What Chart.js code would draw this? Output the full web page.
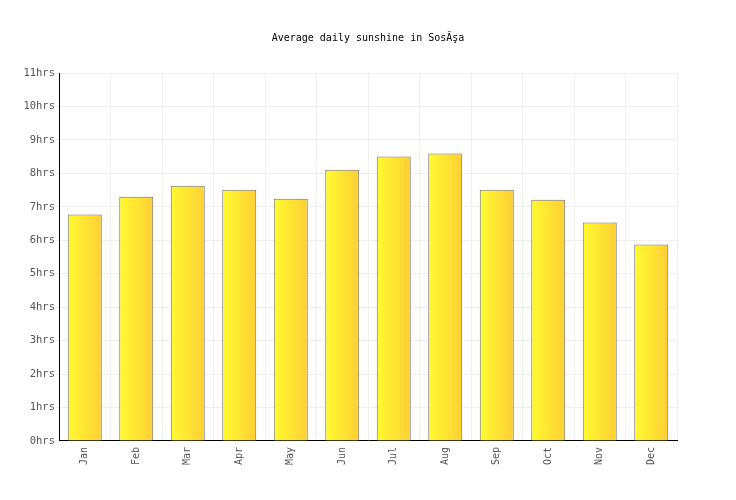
<!DOCTYPE html>
<html>
<head>
<meta charset="utf-8">
<script src="https://cdn.jsdelivr.net/npm/chart.js@4.4.0/dist/chart.umd.min.js"></script>
<style>
  html, body { margin: 0; padding: 0; background: #fff; }
  #wrap { width: 736px; height: 500px; }
</style>
</head>
<body>
<div id="wrap"><canvas id="sunCanvas"></canvas></div>
<script>
// 月份与日照时数（小时）
const months = ['Jan', 'Feb', 'Mar', 'Apr', 'May', 'Jun', 'Jul', 'Aug', 'Sep', 'Oct', 'Nov', 'Dec'];
const sunHours = [6.77, 7.30, 7.63, 7.51, 7.24, 8.11, 8.50, 8.59, 7.51, 7.21, 6.53, 5.87];
const yMax = 11;
const chartTitle = 'Average daily sunshine in SosĂşa';

const BAR_PCT = 0.66;

// 每根柱子独立的横向黄橙渐变
function barGradient(context) {
  const chart = context.chart;
  const xs = chart.scales.x;
  if (!xs || context.dataIndex === undefined) return '#ffe433';
  const cx = xs.getPixelForValue(context.dataIndex);
  const w = (xs.width / months.length) * BAR_PCT;
  if (!isFinite(cx) || !isFinite(w) || w <= 0) return '#ffe433';
  const g = chart.ctx.createLinearGradient(cx - w / 2, 0, cx + w / 2, 0);
  g.addColorStop(0, '#fffa30');
  g.addColorStop(1, '#ffcf36');
  return g;
}

const monoFont = { family: '"DejaVu Sans Mono", monospace', size: 10, weight: 'normal' };

new Chart(document.getElementById('sunCanvas').getContext('2d'), {
  type: 'bar',
  data: {
    labels: months,
    datasets: [{
      data: sunHours,
      backgroundColor: barGradient,
      borderColor: '#707070',
      borderWidth: 1,
      borderSkipped: 'bottom',
      barPercentage: BAR_PCT,
      categoryPercentage: 1.0
    }]
  },
  options: {
    responsive: true,
    maintainAspectRatio: false,
    animation: false,
    devicePixelRatio: 1,
    layout: { padding: { left: 0, right: 0, top: 0, bottom: 29 } },
    plugins: {
      legend: { display: false },
      tooltip: { enabled: false },
      title: {
        display: true,
        text: chartTitle,
        color: '#000',
        font: monoFont,
        padding: { top: 32, bottom: 29 }
      }
    },
    scales: {
      x: {
        grid: { color: '#efefef', offset: true, drawTicks: false },
        border: { color: '#000', width: 1 },
        ticks: {
          color: '#555',
          font: monoFont,
          maxRotation: 90,
          minRotation: 90,
          padding: 6
        }
      },
      y: {
        min: 0,
        max: yMax,
        afterFit: (scale) => { scale.width = 59; },
        grid: { color: '#efefef', tickLength: 4 },
        border: { color: '#000', width: 1 },
        ticks: {
          stepSize: 1,
          color: '#555',
          font: { family: '"DejaVu Sans Mono", monospace', size: 10.5 },
          padding: 0,
          callback: (v) => `${v}hrs`
        }
      },
      // 右侧留白用的空轴
      yRight: {
        position: 'right',
        afterFit: (scale) => { scale.width = 59; },
        grid: { display: false },
        border: { display: false },
        ticks: { display: false }
      }
    }
  }
});
</script>
</body>
</html>
